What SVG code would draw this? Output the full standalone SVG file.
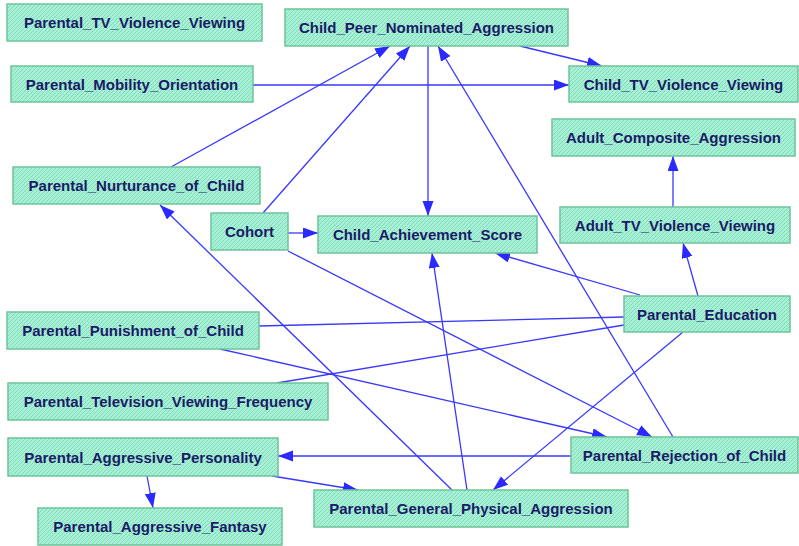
<svg xmlns="http://www.w3.org/2000/svg" width="799" height="546" viewBox="0 0 799 546">
  <style>
    .node rect { fill: url(#hatch); stroke: #6fc39b; stroke-width: 1.5; }
    .node text { font-family: "Liberation Sans", Arial, sans-serif; font-weight: bold; font-size: 15px; fill: #1b1b68; text-anchor: middle; }
    .edges line { stroke: #3838ff; stroke-width: 1.3; }
    .edges .dir { marker-end: url(#arrow); }
  </style>
  <defs>
    <pattern id="hatch" patternUnits="userSpaceOnUse" width="4" height="4">
      <rect width="4" height="4" fill="#a4f1d5"/>
      <path d="M-1,1 L1,-1 M0,4 L4,0 M3,5 L5,3" stroke="#87d9b9" stroke-width="1"/>
    </pattern>
    <marker id="arrow" markerUnits="userSpaceOnUse" markerWidth="16" markerHeight="12" refX="15" refY="5.5" orient="auto">
      <path d="M0,0 L15,5.5 L0,11 Z" fill="#2a2aff"/>
    </marker>
  </defs>

  <!-- connectors -->
  <g class="edges">
    <line class="dir" x1="520" y1="46" x2="602" y2="66"/>
    <line class="dir" x1="253" y1="85" x2="569" y2="85"/>
    <line class="dir" x1="171" y1="167" x2="390" y2="46"/>
    <line class="dir" x1="263" y1="213" x2="410" y2="46"/>
    <line class="dir" x1="428" y1="46" x2="428" y2="216"/>
    <line class="dir" x1="673" y1="437" x2="438" y2="46"/>
    <line class="dir" x1="288" y1="233" x2="318" y2="233"/>
    <line class="dir" x1="673" y1="207" x2="673" y2="156"/>
    <line class="dir" x1="698" y1="296" x2="683" y2="243"/>
    <line class="dir" x1="640" y1="295" x2="495" y2="253"/>
    <line x1="259" y1="326" x2="624" y2="317"/>
    <line x1="277" y1="383" x2="624" y2="325"/>
    <line class="dir" x1="683" y1="332" x2="493" y2="490"/>
    <line class="dir" x1="220" y1="349" x2="607" y2="437"/>
    <line class="dir" x1="288" y1="251" x2="652" y2="437"/>
    <line class="dir" x1="571" y1="456" x2="278" y2="456"/>
    <line class="dir" x1="147" y1="476" x2="153" y2="508"/>
    <line class="dir" x1="272" y1="476" x2="358" y2="490"/>
    <line class="dir" x1="467" y1="490" x2="432" y2="253"/>
    <line class="dir" x1="452" y1="490" x2="160" y2="205"/>
  </g>

  <!-- nodes -->
  <g id="parental-tv-violence-viewing" class="node">
    <rect x="7" y="4" width="255" height="37"/>
    <text x="134.5" y="28">Parental_TV_Violence_Viewing</text>
  </g>
  <g id="parental-mobility-orientation" class="node">
    <rect x="11" y="66" width="242" height="36"/>
    <text x="132" y="89.5">Parental_Mobility_Orientation</text>
  </g>
  <g id="child-peer-nominated-aggression" class="node">
    <rect x="285" y="9" width="283" height="37"/>
    <text x="426.5" y="33">Child_Peer_Nominated_Aggression</text>
  </g>
  <g id="child-tv-violence-viewing" class="node">
    <rect x="569" y="66" width="229" height="36"/>
    <text x="683.5" y="89.5">Child_TV_Violence_Viewing</text>
  </g>
  <g id="adult-composite-aggression" class="node">
    <rect x="552" y="119" width="243" height="37"/>
    <text x="673.5" y="143">Adult_Composite_Aggression</text>
  </g>
  <g id="parental-nurturance-of-child" class="node">
    <rect x="13" y="167" width="247" height="37"/>
    <text x="136.5" y="191">Parental_Nurturance_of_Child</text>
  </g>
  <g id="cohort" class="node">
    <rect x="211" y="213" width="77" height="37"/>
    <text x="249.5" y="237">Cohort</text>
  </g>
  <g id="child-achievement-score" class="node">
    <rect x="318" y="216" width="219" height="37"/>
    <text x="427.5" y="240">Child_Achievement_Score</text>
  </g>
  <g id="adult-tv-violence-viewing" class="node">
    <rect x="560" y="207" width="230" height="36"/>
    <text x="675" y="230.5">Adult_TV_Violence_Viewing</text>
  </g>
  <g id="parental-punishment-of-child" class="node">
    <rect x="7" y="312" width="252" height="37"/>
    <text x="133" y="336">Parental_Punishment_of_Child</text>
  </g>
  <g id="parental-education" class="node">
    <rect x="624" y="296" width="166" height="36"/>
    <text x="707" y="319.5">Parental_Education</text>
  </g>
  <g id="parental-television-viewing-frequency" class="node">
    <rect x="8" y="383" width="320" height="37"/>
    <text x="168" y="407">Parental_Television_Viewing_Frequency</text>
  </g>
  <g id="parental-aggressive-personality" class="node">
    <rect x="8" y="438" width="270" height="38"/>
    <text x="143" y="462.5">Parental_Aggressive_Personality</text>
  </g>
  <g id="parental-rejection-of-child" class="node">
    <rect x="571" y="437" width="227" height="36"/>
    <text x="684.5" y="460.5">Parental_Rejection_of_Child</text>
  </g>
  <g id="parental-aggressive-fantasy" class="node">
    <rect x="38" y="508" width="244" height="37"/>
    <text x="160" y="532">Parental_Aggressive_Fantasy</text>
  </g>
  <g id="parental-general-physical-aggression" class="node">
    <rect x="314" y="490" width="314" height="37"/>
    <text x="471" y="514">Parental_General_Physical_Aggression</text>
  </g>
</svg>
